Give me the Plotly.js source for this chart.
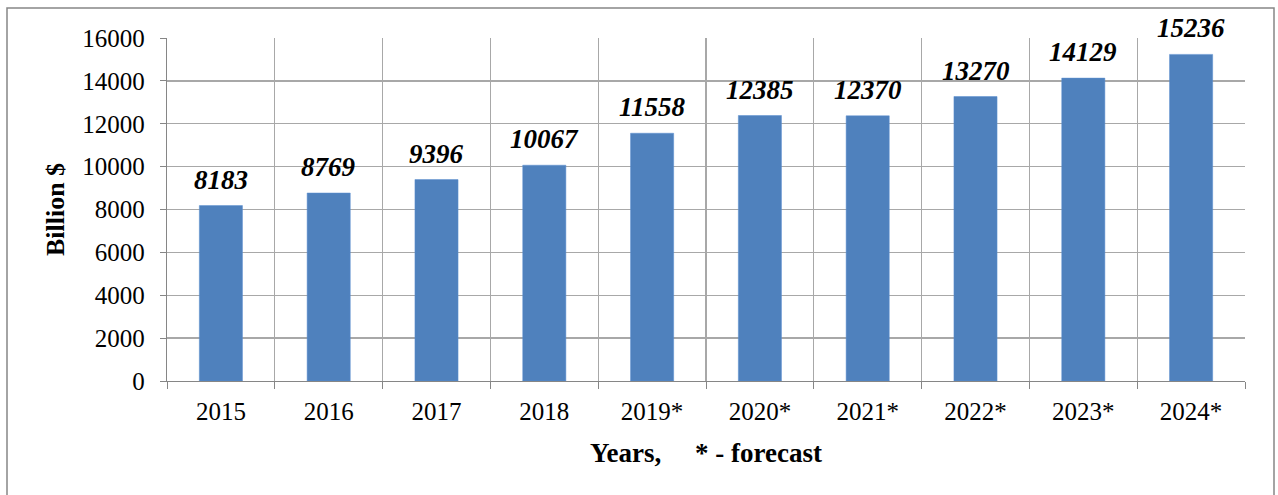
<!DOCTYPE html>
<html>
<head>
<meta charset="utf-8">
<script src="https://cdn.plot.ly/plotly-3.0.1.min.js"></script>
<style>html,body{margin:0;padding:0;background:#fff;}#chart{width:1278px;height:495px;}</style>
</head>
<body>
<div id="chart"></div>
<script>
const years = ["2015", "2016", "2017", "2018", "2019*", "2020*", "2021*", "2022*", "2023*", "2024*"];
const values = [8183, 8769, 9396, 10067, 11558, 12385, 12370, 13270, 14129, 15236];
const yTicks = [0, 2000, 4000, 6000, 8000, 10000, 12000, 14000, 16000];

const serif = "Liberation Serif, Times New Roman, serif";

const trace = {
  type: "bar",
  x: years,
  y: values,
  marker: { color: "#4F81BD", line: { color: "#5B8FD0", width: 0.5 } },
  hoverinfo: "skip"
};

// annotations placed by category index on the category axis
const labels = values.map((v, i) => ({
  x: i,
  y: v,
  xref: "x",
  yref: "y",
  text: "<b><i>" + v + "</i></b>",
  showarrow: false,
  yanchor: "middle",
  yshift: 26,
  font: { family: serif, size: 27, color: "#000" }
}));

const layout = {
  width: 1278,
  height: 495,
  margin: { l: 167, r: 33, t: 38, b: 114 },
  paper_bgcolor: "#fff",
  plot_bgcolor: "#fff",
  bargap: 0.6,
  showlegend: false,
  font: { family: serif, size: 25, color: "#000" },
  annotations: labels,
  xaxis: {
    type: "category",
    categoryorder: "array",
    categoryarray: years,
    range: [-0.5, years.length - 0.5],
    autorange: false,
    tickson: "boundaries",
    showgrid: true,
    gridcolor: "#A8A8A8",
    gridwidth: 1.3,
    showline: true,
    linecolor: "#868686",
    linewidth: 1.3,
    ticks: "outside",
    ticklen: 7,
    tickcolor: "#868686",
    ticklabelstandoff: 8,
    tickangle: 0,
    tickfont: { family: serif, size: 25, color: "#000" },
    title: { text: "<b>Years,\u00a0\u00a0\u00a0\u00a0\u00a0* - forecast</b>", font: { family: serif, size: 27, color: "#000" }, standoff: 18 },
    fixedrange: true
  },
  yaxis: {
    range: [0, 16000],
    autorange: false,
    tickvals: yTicks,
    ticktext: yTicks.map(String),
    showgrid: true,
    gridcolor: "#A8A8A8",
    gridwidth: 1.3,
    zeroline: false,
    showline: true,
    linecolor: "#868686",
    linewidth: 1.3,
    ticks: "outside",
    ticklen: 6,
    tickcolor: "#868686",
    ticklabelstandoff: 10,
    tickfont: { family: serif, size: 25, color: "#000" },
    title: { text: "<b>Billion $</b>", font: { family: serif, size: 26, color: "#000" }, standoff: 10 },
    fixedrange: true
  },
  shapes: [
    {
      type: "rect", xref: "paper", yref: "paper",
      x0: (7 - 167) / (1278 - 167 - 33),
      x1: (1274 - 167) / (1278 - 167 - 33),
      y0: -(500 - 381) / (381 - 38),
      y1: 1 + (38 - 8) / (381 - 38),
      line: { color: "#868686", width: 1.5 },
      fillcolor: "rgba(0,0,0,0)",
      layer: "below"
    }
  ]
};

Plotly.newPlot("chart", [trace], layout, { displayModeBar: false, staticPlot: true });
</script>
</body>
</html>
